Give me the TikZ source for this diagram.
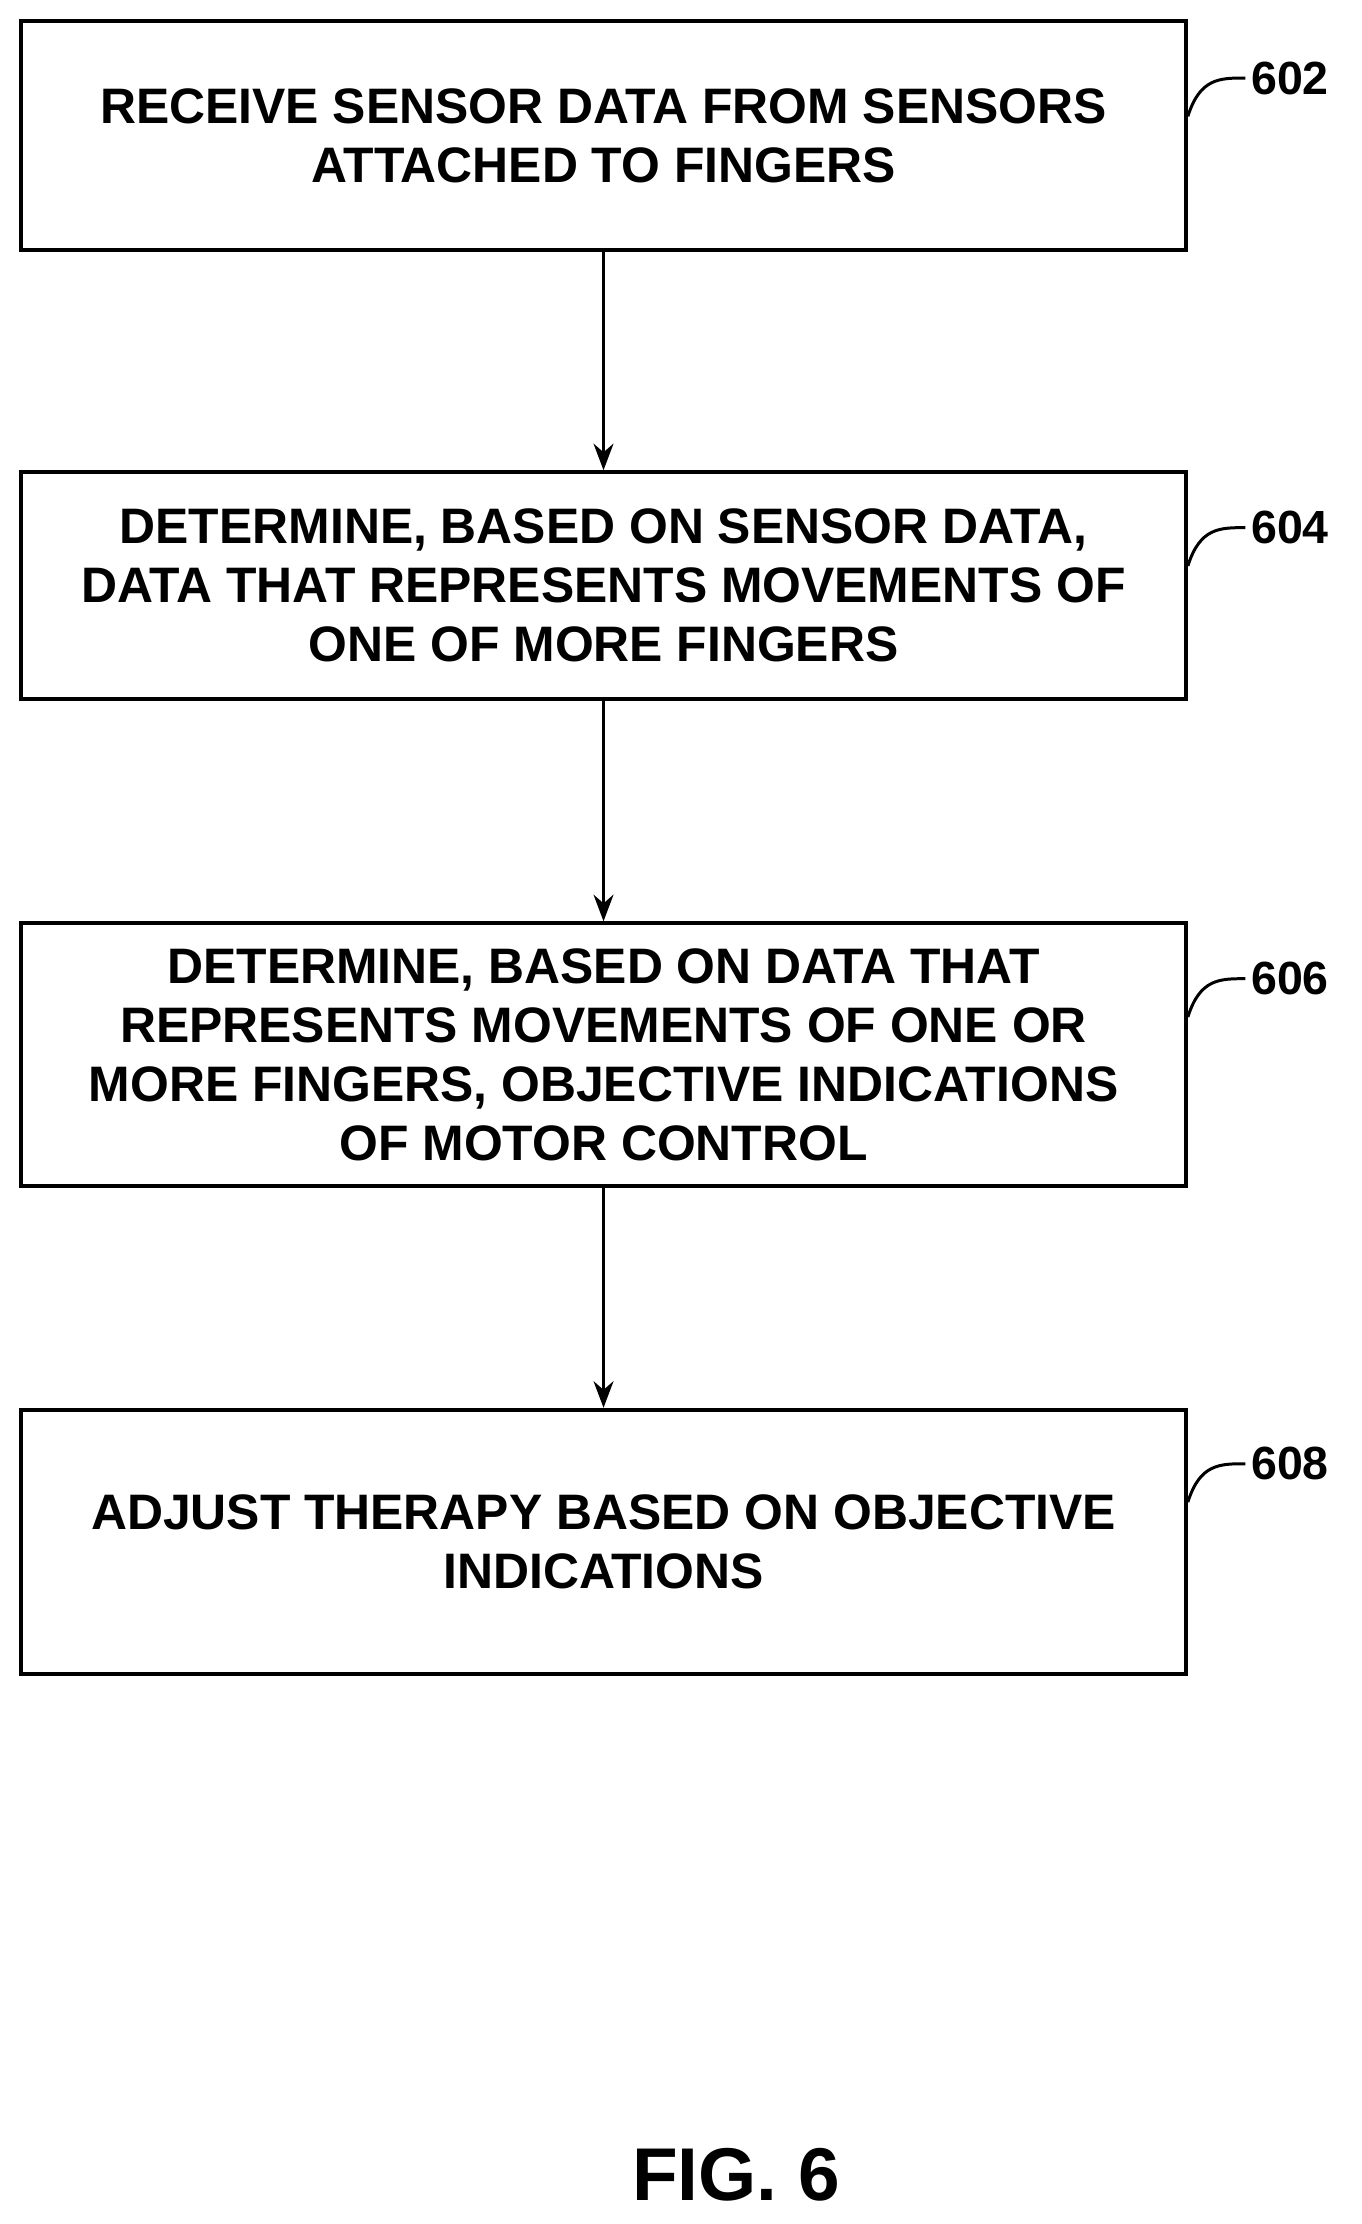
\documentclass[tikz,border=0pt]{standalone}
\usepackage{fontspec}
\setmainfont{Liberation Sans}
\usetikzlibrary{arrows.meta}
\tikzset{
  stepbox/.style={draw, line width=2.5pt, minimum width=24.63cm, align=center,
    font=\fontsize{30}{35.5}\selectfont\bfseries, inner sep=0pt},
  ref/.style={font=\fontsize{28}{30}\selectfont\bfseries, anchor=west},
  flow/.style={-{Stealth[length=16pt,width=12pt]}, line width=1.8pt},
  lead/.style={line width=1.8pt}
}
\begin{document}
\begin{tikzpicture}[x=0.03cm,y=-0.03cm]
  \useasboundingbox (0,0) rectangle (960,1568);

  % Steps
  \node[stepbox, minimum height=4.83cm] (s602) at (425.5,95.5) {RECEIVE SENSOR DATA FROM SENSORS\\ATTACHED TO FINGERS};
  \node[stepbox, minimum height=4.8cm] (s604) at (425.5,413) {DETERMINE, BASED ON SENSOR DATA,\\DATA THAT REPRESENTS MOVEMENTS OF\\ONE OF MORE FINGERS};
  \node[stepbox, minimum height=5.55cm] (s606) at (425.5,743.5) {DETERMINE, BASED ON DATA THAT\\REPRESENTS MOVEMENTS OF ONE OR\\MORE FINGERS, OBJECTIVE INDICATIONS\\OF MOTOR CONTROL};
  \node[stepbox, minimum height=5.58cm] (s608) at (425.5,1087) {ADJUST THERAPY BASED ON OBJECTIVE\\INDICATIONS};

  % Connectors
  \draw[flow] (s602) -- (s604);
  \draw[flow] (s604) -- (s606);
  \draw[flow] (s606) -- (s608);

  % Reference numerals
  \foreach \n/\y in {602/55, 604/372, 606/690, 608/1032} {
    \node[ref] (r\n) at (878,\y) {\n};
    \draw[lead] (s\n.east |- 0,\y+27) .. controls (846,\y) and (860,\y) .. (r\n.west);
  }

  \node[font=\fontsize{45}{50}\selectfont\bfseries] (fig) at (519,1533) {FIG. 6};
\end{tikzpicture}
\end{document}
